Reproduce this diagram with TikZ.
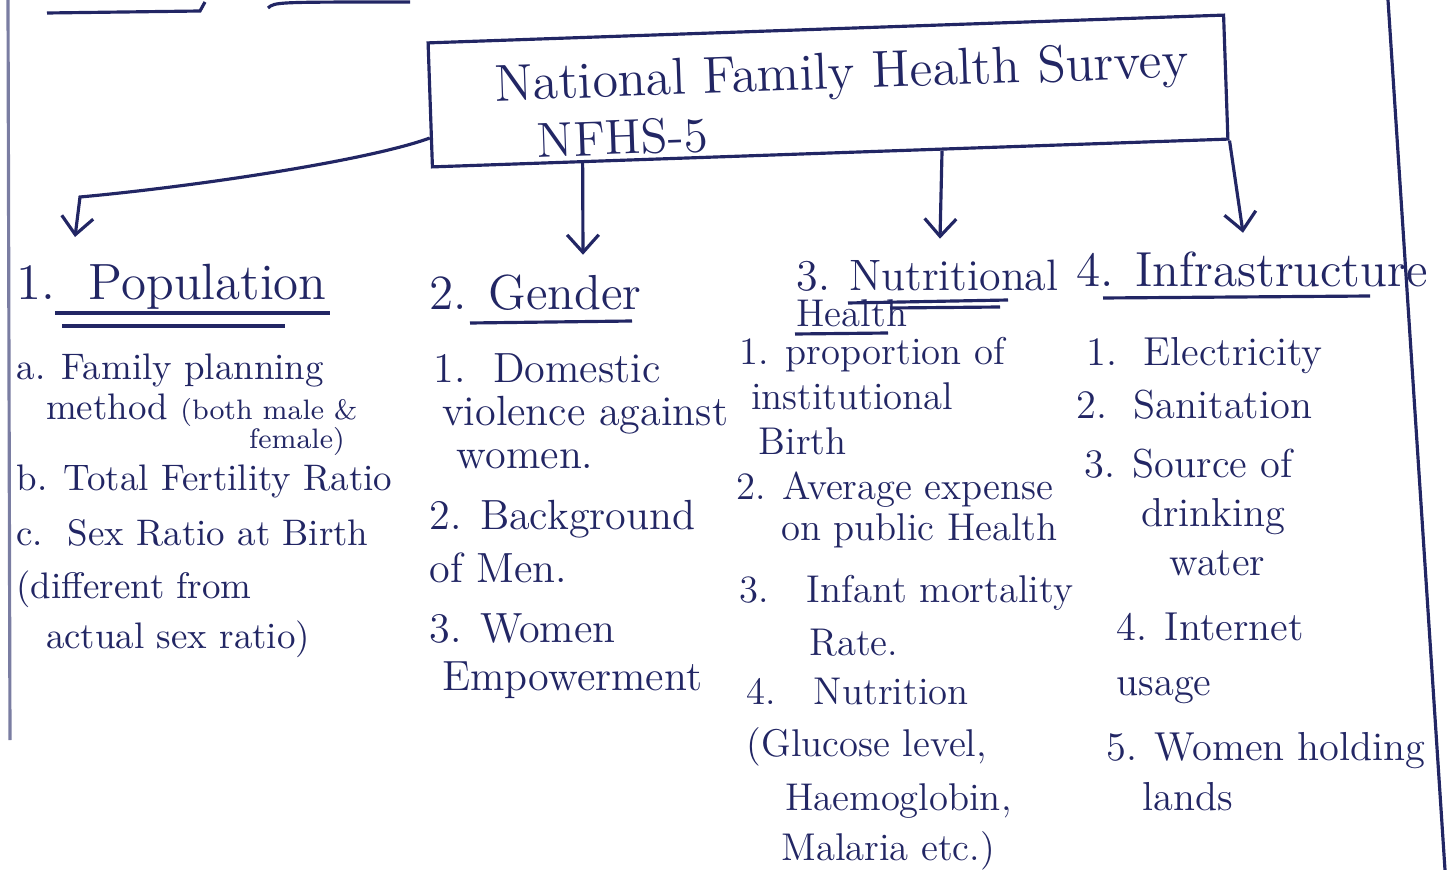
\documentclass[tikz,border=0pt]{standalone}
\usetikzlibrary{arrows.meta,calc}
\definecolor{ink}{RGB}{34,38,100}

\begin{document}
\begin{tikzpicture}[x=0.01cm,y=-0.01cm,->,>={Straight Barb[length=5pt,width=9pt]},line width=0.9pt,draw=ink,
    every node/.style={text=ink},
    head/.style={anchor=base west,inner sep=0pt,align=left,font=\fontsize{14}{16}\selectfont},
    entry/.style={anchor=base west,inner sep=0pt,align=left,font=\fontsize{#1}{13}\selectfont}]
            \useasboundingbox (0,0) rectangle (1454,870);
            % page edges and bits of the page above
            \draw[-,opacity=.6] (8,0) -- (10,740);
            \draw[-] (1388,0) -- (1445,870);
            \draw[-] (47,13) -- (200,11) -- (205,2);
            \draw[-] (268,8) .. controls (275,2) .. (410,2);
            % survey box
            \node[draw,rotate=2,minimum width=7.955cm,minimum height=1.24cm,inner sep=0pt](nfhs)at(828, 91){};
            \node[rotate=2,font=\fontsize{14.8}{17}\selectfont](title)at(842, 76){National Family Health Survey};
            \node[rotate=2,anchor=west,font=\fontsize{14}{16}\selectfont](edition)at(524, 141){NFHS-5};
            % headings (base = last line)
            \node[head,font=\fontsize{14.5}{16}\selectfont](pop)at(15, 300){1.\ \ Population};
            \node[head](gen)at(428, 310){2. Gender};
            \node[head,font=\fontsize{12.5}{14}\selectfont](nut)at(795, 327){3. Nutritional\\[-3.7pt]{\fontsize{11}{14}\selectfont Health}};
            \node[head](infra)at(1075, 287){4. Infrastructure};
            \draw[-] (55,313) -- (330,313);
            \draw[-] (62,326) -- (285,326);
            \draw[-] (470,323) -- (632,321);
            \draw[-] (848,303) -- (1008,300);
            \draw[-] (890,308) -- (1000,307);
            \draw[-] (795,334) -- (888,333);
            \draw[-] (1103,298) -- (1370,296);
            % arrows from the box
            \draw ($(nfhs.south west)!0.24!(nfhs.north west)$) .. controls (370,160) and (200,186) .. (80,197)
                -- ($(pop.north west)+(60,-26)$);
            \path ($(nfhs.south west)!0.19!(nfhs.south east)$) edge ($(gen.north west)+(155,-19)$)
            ($(nfhs.south west)!0.64!(nfhs.south east)$) edge ($(nut.north west)+(145,-20)$)
            (nfhs.south east) edge ($(infra.north west)+(168,-18)$);
            % population
            \node[entry=10.5](pa)at(15, 448){a. Family planning\\[-1.6pt]\hspace*{0.8em}method {\fontsize{8}{13}\selectfont(both male \&}\\[-5pt]\hspace*{6.3em}{\fontsize{8}{13}\selectfont female)}};
            \node[entry=10.5](pb)at(15, 490){b. Total Fertility Ratio};
            \node[entry=10.5](pc)at(15, 648){c.\ \ Sex Ratio at Birth\\[2pt](different from\\[1.2pt]\hspace*{0.8em}actual sex ratio)};
            % gender
            \node[entry=12](ga)at(432, 468){1.\ \ Domestic\\[-1pt]\hspace*{0.2em}violence against\\[-0.8pt]\hspace*{0.55em}women.};
            \node[entry=12](gb)at(428, 582){2. Background\\[1.8pt]of Men.};
            \node[entry=12](gc)at(428, 690){3. Women\\[0.4pt]\hspace*{0.3em}Empowerment};
            % nutrition
            \node[entry=11](na)at(738, 455){1. proportion of\\[-0.2pt]\hspace*{0.3em}institutional\\[-0.2pt]\hspace*{0.5em}Birth};
            \node[entry=11](nb)at(735, 540){2. Average expense\\[-1.6pt]\hspace*{1.15em}on public Health};
            \node[entry=11](nc)at(738, 655){3.\ \ \ Infant mortality\\[1.8pt]\hspace*{1.8em}Rate.};
            \node[entry=11](nd)at(745, 860){4.\ \ \ Nutrition\\[1.8pt](Glucose level,\\[2.1pt]\hspace*{1em}Haemoglobin,\\[1.2pt]\hspace*{0.9em}Malaria etc.)};
            % infrastructure
            \node[entry=11.5](ea)at(1085, 365){1.\ \ Electricity};
            \node[entry=11.5](eb)at(1075, 418){2.\ \ Sanitation};
            \node[entry=11.5](ec)at(1083, 575){3. Source of\\[0.9pt]\hspace*{1.4em}drinking\\[0.7pt]\hspace*{2.1em}water};
            \node[entry=11.5](ed)at(1115, 695){4. Internet\\[2.6pt]usage};
            \node[entry=11.5](ee)at(1105, 810){5. Women holding\\[1.2pt]\hspace*{0.9em}lands};
        \end{tikzpicture}
\end{document}
